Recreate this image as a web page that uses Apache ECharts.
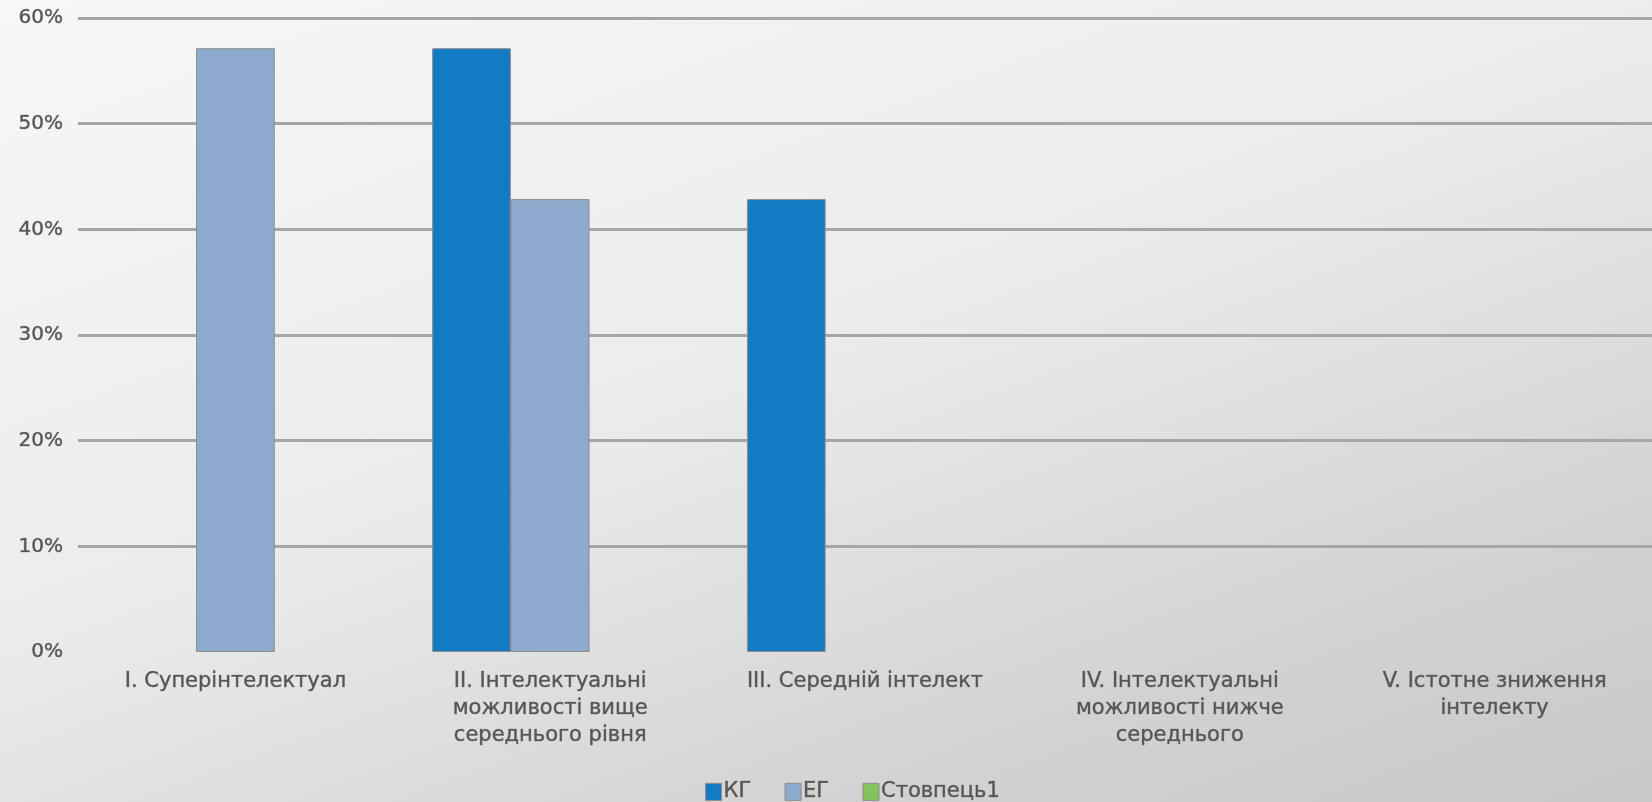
<!DOCTYPE html>
<html>
<head>
<meta charset="utf-8">
<script src="https://cdn.jsdelivr.net/npm/echarts@6/dist/echarts.min.js"></script>
<style>
html,body{margin:0;padding:0;}
#c{width:1652px;height:802px;background:linear-gradient(160deg,#f7f7f7 0%,#ececec 45%,#d2d2d2 80%,#c8c8c8 100%);}
</style>
</head>
<body>
<div id="c"></div>
<script>
const categories = [
  'I. Суперінтелектуал',
  'II. Інтелектуальні\nможливості вище\nсереднього рівня',
  'III. Середній інтелект',
  'IV. Інтелектуальні\nможливості нижче\nсереднього',
  'V. Істотне зниження\nінтелекту'
];
const seriesNames = ['КГ', 'ЕГ', 'Стовпець1'];
const kgValues = [0, 57.14, 42.86, 0, 0];
const egValues = [57.14, 42.86, 0, 0, 0];
const col1Values = [0, 0, 0, 0, 0];
const yTicks = [0, 10, 20, 30, 40, 50, 60];

const colors = ['#127bc4', '#8eaacd', '#84c45a'];
const chart = echarts.init(document.getElementById('c'), null, {renderer: 'canvas'});
const font = 'DejaVu Sans, sans-serif';
const txt = {fontFamily: font, color: '#555555', textBorderColor: 'rgba(85,85,85,0.55)', textBorderWidth: 0.7};
function mk(name, data, i) {
  return {
    name: name, type: 'bar', data: data.map(v => v === 0 ? null : v),
    barGap: '0%', barCategoryGap: '25%',
    itemStyle: {color: colors[i], borderColor: '#8c8c8c', borderWidth: 1},
    emphasis: {disabled: true}
  };
}
chart.setOption({
  animation: false,
  color: colors,
  grid: {left: 78, right: -6, top: 18, bottom: 150, containLabel: false},
  legend: {
    data: seriesNames, left: 700, top: 776, itemWidth: 16, itemHeight: 17, itemGap: 33,
    icon: 'rect',
    textStyle: Object.assign({fontSize: 21, padding: [0, 0, 0, -3]}, txt),
    itemStyle: {borderColor: '#8c8c8c', borderWidth: 1}
  },
  xAxis: {
    type: 'category', data: categories,
    axisLine: {show: false}, axisTick: {show: false},
    axisLabel: Object.assign({fontSize: 21, lineHeight: 27, margin: 16, interval: 0}, txt)
  },
  yAxis: {
    type: 'value', min: yTicks[0], max: yTicks[yTicks.length - 1], interval: 10,
    axisLine: {show: false}, axisTick: {show: false},
    axisLabel: Object.assign({fontSize: 20, margin: 15, formatter: v => v + '%'}, txt),
    splitLine: {lineStyle: {color: ['transparent', '#a6a6a6', '#a6a6a6', '#a6a6a6', '#a6a6a6', '#a6a6a6', '#a6a6a6'], width: 3}}
  },
  series: [mk(seriesNames[0], kgValues, 0), mk(seriesNames[1], egValues, 1), mk(seriesNames[2], col1Values, 2)]
});
</script>
</body>
</html>
